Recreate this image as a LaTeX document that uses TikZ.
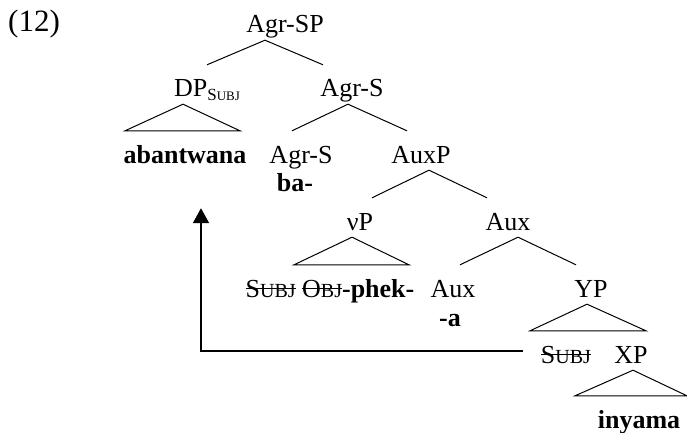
\documentclass[tikz,border=0pt]{standalone}
\usepackage{fontspec}
\setmainfont{Liberation Serif}
\usetikzlibrary{arrows.meta,positioning}

\newsavebox\strkbox
\newcommand\strk[1]{\sbox\strkbox{#1}\rlap{\rule[8pt]{\wd\strkbox}{1.2pt}}\usebox\strkbox}
\newcommand\smcap[2]{#1{\fontsize{20}{20}\selectfont #2}}
\newcommand\subjsc{\smcap{S}{UBJ}}

\begin{document}
\begin{tikzpicture}[
        x=1pt, y=-1pt,
        font=\fontsize{26}{31}\selectfont
    ]

    \tikzstyle{cat} = [anchor=base,inner sep=0pt,text height=32pt,text depth=7pt]
    \tikzstyle{word} = [cat,font=\fontsize{26}{31}\selectfont\bfseries]
    \tikzstyle{branch} = [line width=1pt]
    \tikzstyle{move} = [line width=2pt,-{Triangle[length=15pt,width=16pt]}]

    \useasboundingbox (0,0) rectangle (687,433);

    \node[anchor=base west,inner sep=0pt,font=\fontsize{31}{36}\selectfont] (ex) at (8,32) {(12)};
    \node[cat] (agrsp) at (285,33) {Agr-SP};
    \node[cat] (dp) at (207,97) {DP\raisebox{-3pt}{\fontsize{17}{17}\selectfont S\fontsize{13}{13}\selectfont UBJ}};
    \node[cat] (agrs) at (352,97) {Agr-S};
    \node[word] (aban) at (185,163) {abantwana};
    \node[cat] (agrshead) at (301,163) {Agr-S};
    \node[word] (ba) at (295,191) {ba-};
    \node[cat] (auxp) at (421,163) {AuxP};
    \node[cat] (vp) at (360,230) {νP};
    \node[cat] (aux) at (508,230) {Aux};
    \node[cat] (vpwords) at (330,297) {\strk{\subjsc} \strk{\smcap{O}{BJ}}\textbf{-phek-}};
    \node[cat] (auxhead) at (453,297) {Aux};
    \node[word] (a) at (450,326) {-a};
    \node[cat] (yp) at (591,297) {YP};
    \node[cat] (trace) at (566,363) {\strk{\subjsc}};
    \node[cat] (xp) at (631,363) {XP};
    \node[word] (inyama) at (639,428) {inyama};

    % branches
    \draw[branch] (dp.north) -- ([xshift=-20pt]agrsp.south) -- ([xshift=-29pt]agrs.north);
    \draw[branch] ([xshift=-9pt]agrshead.north) -- ([xshift=-4pt]agrs.south) -- ([xshift=-14pt]auxp.north);
    \draw[branch] ([xshift=12pt]vp.north) -- ([xshift=8pt]auxp.south) -- ([xshift=-21pt]aux.north);
    \draw[branch] ([xshift=7pt]auxhead.north) -- ([xshift=10pt]aux.south) -- ([xshift=-15pt]yp.north);

    % triangles
    \draw[branch] ([xshift=-24pt]dp.south) -- ([xshift=55pt]aban.north) -- ([xshift=-60pt]aban.north) -- cycle;
    \draw[branch] ([xshift=-8pt]vp.south) -- ([xshift=79pt]vpwords.north) -- ([xshift=-36pt]vpwords.north) -- cycle;
    \draw[branch] ([xshift=-4pt]yp.south) -- ([xshift=15pt]xp.north) -- ([xshift=-101pt]xp.north) -- cycle;
    \draw[branch] ([xshift=2pt]xp.south) -- ([xshift=48pt]inyama.north) -- ([xshift=-64pt]inyama.north) -- cycle;

    % movement
    \draw[move] ([xshift=-18pt]trace.west) -| ([xshift=16pt,yshift=-38pt]aban.south);

\end{tikzpicture}
\end{document}
